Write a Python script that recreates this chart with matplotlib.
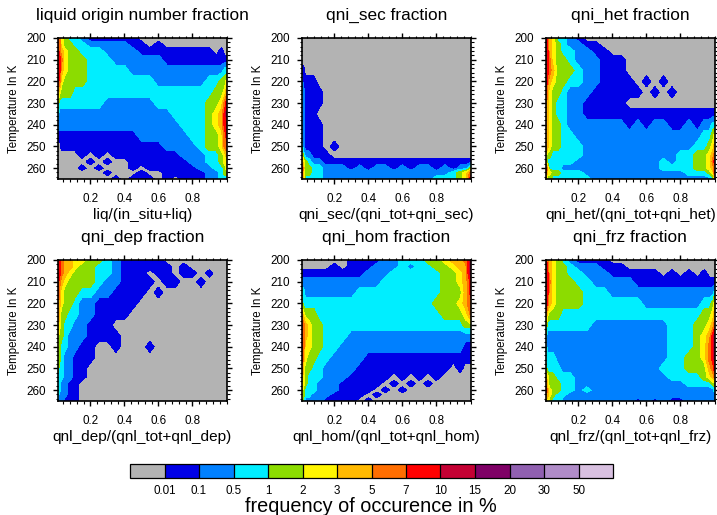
import numpy as np
import matplotlib
matplotlib.use("Agg")
import matplotlib.pyplot as plt
from matplotlib.ticker import MultipleLocator

plt.rcParams["font.family"] = ["Liberation Sans", "DejaVu Sans"]

# fraction bins and temperature bins, values are the frequency class
frac = [.01, .02, .03, .05, .08, .11, .15, .2, .25, .3, .35, .4, .45, .5, .55, .6, .65, .7, .75, .8, .85, .9, .94, .97, .99, 1.0]
temp = [200, 203, 206, 210, 215, 220, 225, 230, 235, 240, 245, 250, 254, 257, 260, 262, 265]

liq = [
    [8, 7, 5, 4, 3, 3, 2, 1, 1, 1, 1, 1, 1, 0, 0, 0, 0, 0, 0, 0, 0, 0, 0, 0, 0, 0],
    [8, 7, 5, 4, 4, 3, 3, 2, 2, 2, 2, 2, 1, 1, 0, 1, 0, 0, 0, 0, 0, 0, 0, 0, 0, 0],
    [8, 7, 6, 5, 4, 4, 3, 3, 3, 2, 2, 2, 2, 1, 1, 1, 1, 1, 1, 1, 1, 1, 0, 1, 0, 0],
    [8, 8, 7, 5, 4, 4, 4, 3, 3, 3, 2, 2, 2, 2, 2, 2, 1, 1, 1, 1, 1, 1, 1, 1, 1, 1],
    [8, 8, 6, 5, 4, 4, 4, 3, 3, 3, 3, 3, 2, 2, 2, 2, 2, 2, 2, 2, 2, 2, 2, 2, 3, 3],
    [8, 7, 5, 4, 4, 4, 4, 3, 3, 3, 3, 3, 3, 3, 3, 2, 2, 2, 2, 2, 2, 3, 3, 4, 4, 5],
    [6, 5, 4, 4, 4, 3, 3, 3, 3, 3, 3, 3, 3, 3, 3, 3, 3, 3, 3, 3, 3, 3, 4, 4, 5, 6],
    [4, 3, 3, 3, 3, 3, 3, 3, 3, 2, 2, 2, 2, 2, 2, 3, 3, 3, 3, 3, 3, 4, 4, 5, 7, 8],
    [3, 2, 2, 2, 2, 2, 2, 2, 2, 2, 2, 2, 2, 2, 2, 2, 2, 3, 3, 3, 3, 4, 5, 6, 8, 9],
    [2, 2, 2, 2, 2, 2, 2, 2, 2, 2, 2, 2, 2, 2, 2, 2, 2, 2, 3, 3, 3, 4, 5, 6, 8, 8],
    [1, 1, 1, 1, 1, 1, 1, 1, 1, 1, 1, 1, 1, 2, 2, 2, 2, 2, 2, 3, 3, 4, 4, 5, 7, 8],
    [0, 0, 1, 1, 1, 1, 1, 1, 1, 1, 1, 1, 1, 1, 1, 1, 2, 2, 2, 2, 3, 4, 4, 5, 7, 7],
    [0, 0, 0, 0, 0, 0, 1, 0, 1, 0, 1, 1, 1, 1, 1, 1, 1, 1, 2, 2, 2, 3, 3, 4, 5, 6],
    [0, 0, 0, 0, 0, 0, 0, 1, 0, 1, 0, 0, 1, 1, 1, 1, 1, 1, 1, 2, 2, 3, 3, 4, 5, 5],
    [0, 0, 0, 0, 0, 0, 1, 0, 1, 0, 0, 0, 1, 0, 1, 1, 1, 1, 1, 1, 2, 2, 3, 3, 4, 5],
    [0, 0, 0, 0, 0, 0, 0, 0, 0, 1, 0, 0, 0, 1, 0, 0, 1, 1, 1, 1, 1, 2, 2, 3, 4, 4],
    [0, 0, 0, 0, 0, 0, 0, 0, 0, 0, 1, 0, 1, 1, 1, 0, 1, 0, 1, 1, 1, 2, 2, 3, 3, 3],
]
sec = [
    [0, 0, 0, 0, 0, 0, 0, 0, 0, 0, 0, 0, 0, 0, 0, 0, 0, 0, 0, 0, 0, 0, 0, 0, 0, 0],
    [0, 0, 0, 0, 0, 0, 0, 0, 0, 0, 0, 0, 0, 0, 0, 0, 0, 0, 0, 0, 0, 0, 0, 0, 0, 0],
    [0, 0, 0, 0, 0, 0, 0, 0, 0, 0, 0, 0, 0, 0, 0, 0, 0, 0, 0, 0, 0, 0, 0, 0, 0, 0],
    [0, 0, 0, 0, 0, 0, 0, 0, 0, 0, 0, 0, 0, 0, 0, 0, 0, 0, 0, 0, 0, 0, 0, 0, 0, 0],
    [1, 1, 0, 0, 0, 0, 0, 0, 0, 0, 0, 0, 0, 0, 0, 0, 0, 0, 0, 0, 0, 0, 0, 0, 0, 0],
    [2, 1, 1, 1, 1, 0, 0, 0, 0, 0, 0, 0, 0, 0, 0, 0, 0, 0, 0, 0, 0, 0, 0, 0, 0, 0],
    [2, 2, 1, 1, 1, 1, 0, 0, 0, 0, 0, 0, 0, 0, 0, 0, 0, 0, 0, 0, 0, 0, 0, 0, 0, 0],
    [2, 2, 1, 1, 1, 1, 0, 0, 0, 0, 0, 0, 0, 0, 0, 0, 0, 0, 0, 0, 0, 0, 0, 0, 0, 0],
    [2, 2, 1, 1, 1, 0, 0, 0, 0, 0, 0, 0, 0, 0, 0, 0, 0, 0, 0, 0, 0, 0, 0, 0, 0, 0],
    [2, 2, 1, 1, 1, 1, 0, 0, 0, 0, 0, 0, 0, 0, 0, 0, 0, 0, 0, 0, 0, 0, 0, 0, 0, 0],
    [2, 2, 1, 1, 1, 1, 0, 0, 0, 0, 0, 0, 0, 0, 0, 0, 0, 0, 0, 0, 0, 0, 0, 0, 0, 0],
    [3, 2, 1, 1, 1, 1, 0, 1, 0, 0, 0, 0, 0, 0, 0, 0, 0, 0, 0, 0, 0, 0, 0, 0, 0, 0],
    [5, 3, 2, 2, 1, 1, 1, 0, 0, 0, 0, 0, 0, 0, 0, 0, 0, 0, 0, 0, 0, 0, 0, 0, 0, 0],
    [6, 5, 4, 3, 2, 2, 1, 1, 1, 1, 1, 1, 1, 1, 1, 1, 1, 1, 1, 1, 1, 1, 1, 1, 1, 1],
    [8, 6, 4, 4, 3, 3, 2, 2, 2, 1, 2, 1, 2, 2, 1, 2, 1, 2, 2, 1, 2, 1, 2, 2, 3, 4],
    [8, 5, 4, 4, 3, 3, 2, 2, 2, 2, 2, 2, 2, 2, 2, 2, 2, 2, 2, 2, 2, 3, 4, 5, 6, 7],
    [7, 5, 3, 3, 3, 3, 2, 2, 2, 2, 2, 2, 2, 2, 2, 2, 2, 2, 2, 3, 3, 3, 4, 5, 7, 8],
]
het = [
    [9, 7, 6, 5, 3, 3, 2, 1, 0, 0, 0, 0, 0, 0, 0, 0, 0, 0, 0, 0, 0, 0, 0, 0, 0, 0],
    [9, 7, 6, 5, 4, 3, 2, 2, 1, 1, 0, 0, 0, 0, 0, 0, 0, 0, 0, 0, 0, 0, 0, 0, 0, 0],
    [9, 8, 6, 5, 4, 3, 3, 2, 2, 1, 1, 0, 0, 0, 0, 0, 0, 0, 0, 0, 0, 0, 0, 0, 0, 0],
    [9, 8, 7, 5, 4, 4, 3, 2, 2, 2, 1, 1, 1, 0, 0, 0, 0, 0, 0, 0, 0, 0, 0, 0, 0, 0],
    [9, 8, 7, 6, 4, 4, 4, 3, 2, 2, 1, 1, 1, 0, 0, 0, 0, 0, 0, 0, 0, 0, 0, 0, 0, 0],
    [9, 7, 6, 5, 4, 4, 3, 3, 2, 2, 1, 1, 1, 1, 0, 1, 0, 1, 0, 0, 0, 0, 0, 0, 0, 0],
    [8, 6, 5, 4, 4, 3, 2, 2, 2, 1, 1, 1, 1, 1, 1, 0, 1, 0, 1, 0, 0, 0, 0, 0, 0, 0],
    [7, 6, 5, 4, 3, 3, 2, 2, 1, 1, 1, 1, 1, 0, 0, 0, 0, 0, 0, 0, 0, 0, 0, 0, 0, 0],
    [7, 6, 5, 4, 3, 3, 2, 2, 1, 1, 1, 1, 1, 1, 1, 1, 1, 1, 1, 1, 1, 1, 1, 1, 1, 1],
    [7, 6, 5, 4, 4, 3, 2, 2, 2, 2, 2, 2, 2, 1, 2, 1, 2, 2, 1, 1, 2, 1, 2, 2, 3, 3],
    [7, 6, 5, 4, 4, 3, 3, 2, 2, 2, 2, 2, 2, 2, 2, 2, 2, 2, 2, 2, 2, 2, 3, 3, 4, 5],
    [7, 6, 5, 4, 4, 3, 3, 3, 2, 2, 2, 2, 2, 2, 2, 2, 2, 2, 2, 2, 2, 3, 3, 4, 5, 6],
    [5, 4, 4, 3, 3, 3, 3, 3, 2, 2, 2, 2, 2, 2, 2, 2, 2, 2, 2, 3, 3, 4, 4, 5, 6, 7],
    [4, 3, 3, 3, 3, 3, 3, 2, 2, 2, 2, 2, 2, 2, 2, 2, 2, 3, 2, 3, 3, 4, 4, 5, 7, 8],
    [8, 6, 3, 3, 3, 2, 2, 2, 2, 2, 2, 2, 2, 2, 2, 2, 2, 3, 3, 3, 3, 4, 4, 5, 6, 7],
    [8, 5, 5, 4, 4, 3, 3, 3, 2, 2, 2, 2, 2, 2, 2, 2, 2, 2, 2, 2, 3, 3, 3, 4, 5, 8],
    [5, 4, 4, 3, 3, 3, 3, 3, 3, 2, 2, 2, 2, 2, 2, 2, 2, 2, 2, 2, 2, 2, 2, 2, 3, 5],
]
dep = [
    [8, 8, 7, 6, 6, 5, 5, 4, 4, 3, 2, 1, 1, 1, 1, 1, 0, 0, 0, 0, 0, 0, 0, 0, 0, 0],
    [8, 8, 7, 6, 6, 5, 4, 4, 3, 3, 2, 1, 1, 1, 1, 1, 1, 0, 1, 0, 0, 0, 0, 0, 0, 0],
    [8, 8, 7, 6, 5, 4, 4, 4, 3, 3, 2, 1, 1, 1, 0, 1, 1, 0, 1, 1, 0, 1, 0, 0, 0, 0],
    [8, 7, 6, 5, 4, 4, 4, 4, 3, 2, 2, 1, 1, 1, 1, 0, 1, 1, 0, 0, 1, 0, 0, 0, 0, 0],
    [8, 6, 5, 4, 4, 4, 3, 3, 2, 2, 1, 1, 1, 1, 0, 1, 0, 0, 0, 0, 0, 0, 0, 0, 0, 0],
    [7, 6, 5, 4, 4, 3, 2, 2, 1, 1, 1, 1, 1, 0, 0, 0, 0, 0, 0, 0, 0, 0, 0, 0, 0, 0],
    [7, 5, 4, 4, 3, 3, 2, 2, 1, 1, 1, 1, 0, 0, 0, 0, 0, 0, 0, 0, 0, 0, 0, 0, 0, 0],
    [6, 5, 4, 3, 3, 2, 2, 1, 1, 1, 0, 0, 0, 0, 0, 0, 0, 0, 0, 0, 0, 0, 0, 0, 0, 0],
    [5, 4, 4, 3, 2, 2, 2, 1, 1, 1, 1, 0, 0, 0, 0, 0, 0, 0, 0, 0, 0, 0, 0, 0, 0, 0],
    [5, 4, 3, 3, 2, 2, 1, 1, 0, 0, 1, 0, 0, 0, 1, 0, 0, 0, 0, 0, 0, 0, 0, 0, 0, 0],
    [4, 4, 3, 2, 2, 1, 1, 1, 0, 0, 0, 0, 0, 0, 0, 0, 0, 0, 0, 0, 0, 0, 0, 0, 0, 0],
    [4, 3, 3, 2, 2, 1, 1, 0, 0, 0, 0, 0, 0, 0, 0, 0, 0, 0, 0, 0, 0, 0, 0, 0, 0, 0],
    [3, 3, 3, 2, 2, 1, 1, 0, 0, 0, 0, 0, 0, 0, 0, 0, 0, 0, 0, 0, 0, 0, 0, 0, 0, 0],
    [3, 3, 2, 2, 1, 1, 0, 0, 0, 0, 0, 0, 0, 0, 0, 0, 0, 0, 0, 0, 0, 0, 0, 0, 0, 0],
    [3, 3, 2, 2, 1, 1, 0, 0, 0, 0, 0, 0, 0, 0, 0, 0, 0, 0, 0, 0, 0, 0, 0, 0, 0, 0],
    [3, 2, 2, 2, 1, 1, 0, 0, 0, 0, 0, 0, 0, 0, 0, 0, 0, 0, 0, 0, 0, 0, 0, 0, 0, 0],
    [3, 2, 2, 1, 1, 1, 0, 0, 0, 0, 0, 0, 0, 0, 0, 0, 0, 0, 0, 0, 0, 0, 0, 0, 0, 0],
]
hom = [
    [0, 0, 0, 0, 0, 0, 0, 0, 0, 1, 1, 1, 1, 2, 2, 3, 3, 3, 4, 4, 5, 6, 6, 7, 8, 9],
    [0, 0, 0, 0, 0, 0, 0, 1, 0, 1, 1, 1, 2, 2, 2, 3, 2, 3, 3, 4, 4, 5, 6, 6, 8, 9],
    [1, 1, 1, 1, 1, 1, 1, 1, 1, 1, 1, 2, 2, 2, 3, 3, 3, 3, 3, 3, 4, 4, 5, 6, 8, 9],
    [2, 2, 2, 2, 2, 2, 2, 2, 2, 2, 2, 2, 2, 3, 3, 3, 3, 3, 3, 3, 4, 4, 5, 6, 7, 8],
    [3, 3, 2, 2, 2, 2, 2, 2, 2, 2, 3, 3, 3, 3, 3, 3, 3, 3, 3, 3, 4, 4, 4, 6, 7, 8],
    [4, 3, 3, 3, 3, 3, 3, 3, 3, 3, 3, 3, 3, 3, 3, 3, 3, 3, 3, 4, 4, 4, 5, 6, 7, 7],
    [6, 5, 4, 4, 4, 3, 3, 3, 3, 3, 3, 3, 3, 3, 3, 3, 3, 3, 3, 3, 4, 4, 4, 5, 6, 7],
    [8, 7, 6, 5, 4, 4, 3, 3, 3, 3, 3, 3, 3, 3, 3, 3, 3, 3, 3, 3, 3, 3, 3, 4, 4, 4],
    [8, 7, 6, 5, 4, 4, 3, 3, 3, 2, 2, 2, 2, 2, 2, 2, 2, 2, 2, 2, 2, 2, 2, 2, 2, 2],
    [8, 7, 5, 5, 4, 4, 3, 3, 2, 2, 2, 2, 2, 2, 2, 2, 2, 2, 2, 2, 2, 2, 2, 1, 1, 1],
    [8, 6, 5, 4, 4, 3, 3, 2, 2, 2, 2, 1, 1, 1, 1, 1, 1, 1, 1, 1, 1, 1, 1, 1, 1, 1],
    [7, 5, 4, 4, 3, 3, 2, 2, 2, 2, 1, 1, 1, 1, 1, 1, 1, 1, 1, 1, 1, 0, 1, 0, 0, 0],
    [6, 5, 4, 3, 3, 3, 2, 2, 2, 1, 1, 1, 1, 1, 0, 1, 0, 1, 0, 1, 0, 0, 0, 0, 0, 0],
    [5, 5, 4, 3, 3, 2, 2, 2, 1, 1, 1, 1, 1, 0, 1, 0, 1, 0, 1, 0, 0, 0, 0, 0, 0, 0],
    [5, 4, 3, 3, 3, 2, 2, 2, 1, 1, 1, 1, 0, 1, 0, 1, 0, 0, 0, 0, 0, 0, 0, 0, 0, 0],
    [5, 4, 3, 3, 2, 2, 2, 1, 1, 1, 1, 0, 1, 0, 0, 0, 0, 0, 0, 0, 0, 0, 0, 0, 0, 0],
    [4, 3, 2, 2, 2, 2, 1, 1, 1, 1, 0, 1, 0, 0, 0, 0, 0, 0, 0, 0, 0, 0, 0, 0, 0, 0],
]
frz = [
    [8, 7, 6, 5, 4, 3, 2, 1, 1, 1, 1, 0, 0, 0, 0, 0, 0, 0, 0, 0, 0, 0, 0, 0, 0, 0],
    [9, 7, 6, 5, 4, 4, 3, 2, 2, 2, 1, 1, 1, 0, 0, 0, 0, 0, 0, 0, 0, 0, 0, 0, 0, 0],
    [9, 8, 6, 5, 4, 4, 3, 3, 2, 2, 2, 1, 1, 1, 1, 1, 1, 0, 1, 0, 1, 0, 1, 0, 0, 0],
    [9, 8, 7, 5, 4, 4, 4, 3, 3, 2, 2, 2, 2, 2, 1, 1, 1, 1, 1, 1, 1, 1, 1, 1, 1, 1],
    [9, 8, 6, 5, 4, 4, 4, 4, 3, 3, 3, 2, 2, 2, 2, 2, 2, 2, 2, 2, 2, 2, 2, 2, 2, 3],
    [9, 7, 6, 5, 4, 4, 4, 4, 3, 3, 3, 3, 3, 3, 3, 2, 2, 2, 2, 2, 2, 2, 3, 3, 4, 5],
    [7, 5, 4, 4, 4, 3, 3, 3, 3, 3, 3, 3, 3, 3, 3, 3, 3, 3, 3, 3, 3, 3, 4, 4, 5, 6],
    [5, 3, 3, 3, 3, 3, 3, 3, 3, 2, 2, 2, 2, 2, 2, 2, 2, 2, 3, 3, 3, 4, 4, 5, 6, 7],
    [3, 2, 2, 2, 2, 2, 2, 2, 2, 2, 2, 2, 2, 2, 2, 2, 2, 2, 3, 3, 3, 4, 5, 6, 8, 9],
    [3, 2, 2, 2, 2, 2, 2, 2, 2, 2, 2, 2, 2, 2, 2, 2, 2, 2, 3, 3, 3, 4, 5, 7, 8, 9],
    [3, 3, 3, 3, 2, 2, 2, 2, 2, 2, 2, 2, 2, 2, 2, 2, 2, 2, 3, 3, 4, 4, 5, 7, 8, 9],
    [4, 3, 3, 3, 3, 2, 2, 2, 2, 2, 2, 2, 2, 2, 2, 2, 2, 3, 3, 3, 4, 4, 4, 6, 7, 8],
    [6, 5, 4, 4, 3, 3, 3, 2, 2, 2, 2, 2, 2, 2, 2, 2, 2, 2, 3, 3, 3, 3, 4, 5, 6, 7],
    [7, 5, 4, 4, 4, 3, 3, 2, 2, 2, 2, 2, 2, 2, 2, 2, 2, 2, 2, 2, 3, 3, 3, 3, 4, 4],
    [8, 6, 5, 4, 4, 3, 3, 2, 3, 2, 2, 2, 2, 2, 2, 2, 2, 2, 2, 2, 2, 2, 2, 2, 2, 3],
    [7, 6, 5, 4, 3, 3, 2, 2, 2, 2, 2, 2, 2, 2, 2, 2, 2, 2, 2, 2, 2, 2, 2, 2, 2, 2],
    [5, 5, 4, 3, 3, 2, 2, 2, 2, 2, 2, 2, 2, 2, 1, 2, 1, 2, 1, 1, 2, 2, 2, 2, 2, 1],
]

panels = [liq, sec, het, dep, hom, frz]
titles = ["liquid origin number fraction", "qni_sec fraction", "qni_het fraction",
          "qni_dep fraction", "qni_hom fraction", "qni_frz fraction"]
xlabels = ["liq/(in_situ+liq)", "qni_sec/(qni_tot+qni_sec)", "qni_het/(qni_tot+qni_het)",
           "qnl_dep/(qnl_tot+qnl_dep)", "qnl_hom/(qnl_tot+qnl_hom)", "qnl_frz/(qnl_tot+qnl_frz)"]

colors = ["#b3b3b3", "#0000e6", "#0080ff", "#00eeff", "#8cdc00", "#fff500", "#ffb900",
          "#ff6e00", "#ff0000", "#c40033", "#7f0066", "#9060b0", "#b08cc8", "#d8c0e0"]
cbar_labels = ["0.01", "0.1", "0.5", "1", "2", "3", "5", "7", "10", "15", "20", "30", "50"]
levels = np.arange(-0.5, 14)

W, H = 717, 515
lefts = [58, 302, 546]
tops = [38, 260]
pw, ph = 168.5, 141

fig = plt.figure(figsize=(W / 100, H / 100), dpi=100)
for i in range(6):
    x0 = lefts[i % 3]
    y0 = tops[i // 3]
    ax = fig.add_axes([x0 / W, 1 - (y0 + ph) / H, pw / W, ph / H])
    cs = ax.contourf(frac, temp, np.array(panels[i]), levels=levels, colors=colors)
    ax.set_xlim(0.01, 1.0)
    ax.set_ylim(265, 200)
    ax.set_xticks([0.2, 0.4, 0.6, 0.8])
    ax.xaxis.set_minor_locator(MultipleLocator(0.04))
    ax.yaxis.set_major_locator(MultipleLocator(10))
    ax.yaxis.set_minor_locator(MultipleLocator(2))
    ax.tick_params(which="major", direction="out", length=3.6, width=1.0, top=True, right=True, labelsize=8.4)
    ax.tick_params(which="minor", direction="out", length=1.8, width=0.8, top=True, right=True)
    ax.tick_params(axis="x", which="major", pad=6.5)
    ax.tick_params(axis="y", which="major", pad=5)
    for s in ax.spines.values():
        s.set_linewidth(1.2)
    ax.set_title(titles[i], fontsize=12.45, pad=13)
    ax.set_xlabel(xlabels[i], fontsize=11.1, labelpad=2)
    ax.set_ylabel("Temperature In K", fontsize=8.3, labelpad=4.5)

cax = fig.add_axes([130 / W, 1 - 478 / H, 483 / W, 14 / H])
cb = fig.colorbar(cs, cax=cax, orientation="horizontal", ticks=np.arange(0.5, 13), drawedges=True)
cb.ax.set_xticklabels(cbar_labels, fontsize=8.4)
cb.ax.tick_params(length=0, pad=5)
cb.ax.minorticks_off()
cb.dividers.set_color("black")
cb.dividers.set_linewidth(0.9)
cb.outline.set_linewidth(0.9)
fig.text(371 / W, 1 - 506 / H, "frequency of occurence in %", ha="center", va="center", fontsize=14.35)

fig.savefig("out.png", dpi=100)
